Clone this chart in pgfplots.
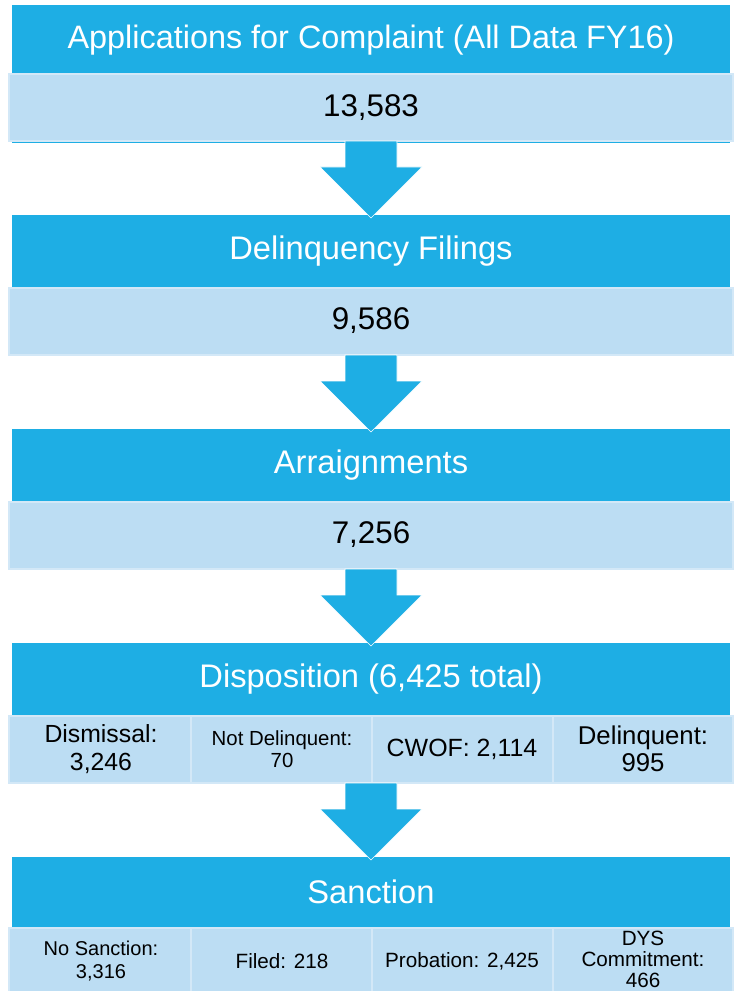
\documentclass[border=0pt]{standalone}
\usepackage{pgfplots}
\pgfplotsset{compat=1.18}
\usepackage{fontspec}
\setmainfont{Liberation Sans}

\definecolor{hdr}{HTML}{1EAEE4}
\definecolor{cell}{HTML}{BCDDF3}
\definecolor{celledge}{HTML}{D3E8F7}

% rectangle from (x1,y1) to (x2,y2), in pixels of the reference
\newcommand{\hdrbox}[4]{\addplot[fill=hdr, draw=none] coordinates {(#1,#2) (#3,#2) (#3,#4) (#1,#4)} -- cycle;}
\newcommand{\cellbox}[4]{\addplot[fill=cell, draw=celledge, line width=1.1pt] coordinates {(#1,#2) (#3,#2) (#3,#4) (#1,#4)} -- cycle;}
% arrow: shaft top, head start, tip
\newcommand{\arrow}[3]{\addplot[fill=hdr, draw=white, line width=0.5pt] coordinates {(345,#1) (397,#1) (397,#2) (422,#2) (371,#3) (320,#2) (345,#2)} -- cycle;}

\newcommand{\hfont}{\fontsize{24.5}{29}\selectfont}
\newcommand{\vfont}{\fontsize{23.5}{28}\selectfont}

\begin{document}
\begin{tikzpicture}
\begin{axis}[
    scale only axis,
    width=552pt, height=743.25pt,
    xmin=0, xmax=736, ymin=0, ymax=991,
    y dir=reverse,
    hide axis,
]
% stage 1
\hdrbox{12}{5}{730}{143}
\cellbox{9}{74}{733}{141}
% stage 2
\hdrbox{12}{215}{730}{288}
\cellbox{9}{288}{733}{355}
% stage 3
\hdrbox{12}{429}{730}{502}
\cellbox{9}{502}{733}{569}
% stage 4
\hdrbox{12}{643}{730}{716}
\cellbox{9}{716}{191}{783}
\cellbox{191}{716}{372}{783}
\cellbox{372}{716}{553}{783}
\cellbox{553}{716}{733}{783}
% stage 5
\hdrbox{12}{857}{730}{928}
\cellbox{9}{928}{191}{1000}
\cellbox{191}{928}{372}{1000}
\cellbox{372}{928}{553}{1000}
\cellbox{553}{928}{733}{1000}
% arrows
\arrow{141}{167}{218}
\arrow{355}{381}{432}
\arrow{569}{595}{646}
\arrow{783}{809}{860}

% headers
\node[text=white, font=\fontsize{24.3}{29}\selectfont] at (axis cs:371,40) {Applications for Complaint (All Data FY16)};
\node[text=white, font=\hfont] at (axis cs:371,251) {Delinquency Filings};
\node[text=white, font=\hfont] at (axis cs:371,465) {Arraignments};
\node[text=white, font=\hfont] at (axis cs:371,679) {Disposition (6,425 total)};
\node[text=white, font=\hfont] at (axis cs:371,892) {Sanction};
% values
\node[font=\vfont] at (axis cs:371,108) {13,583};
\node[font=\vfont] at (axis cs:371,321) {9,586};
\node[font=\vfont] at (axis cs:371,535) {7,256};
% disposition cells
\node[align=center, font=\fontsize{18.6}{20.5}\selectfont] at (axis cs:101,749) {Dismissal:\\3,246};
\node[align=center, font=\fontsize{15.3}{16.5}\selectfont] at (axis cs:282,749) {Not Delinquent:\\70};
\node[align=center, font=\fontsize{18.7}{21}\selectfont] at (axis cs:462,749) {CWOF: 2,114};
\node[align=center, font=\fontsize{19.3}{20.5}\selectfont] at (axis cs:643,749) {Delinquent:\\995};
% sanction cells
\node[align=center, font=\fontsize{15}{17}\selectfont] at (axis cs:101,961) {No Sanction:\\3,316};
\node[align=center, font=\fontsize{15.5}{18}\selectfont] at (axis cs:282,961) {Filed: 218};
\node[align=center, font=\fontsize{15.5}{18}\selectfont] at (axis cs:462,961) {Probation: 2,425};
\node[align=center, font=\fontsize{15.5}{15.8}\selectfont] at (axis cs:643,959) {DYS\\Commitment:\\466};
\end{axis}
\pgfresetboundingbox
\path (current axis.south west) rectangle (current axis.north east);
\end{tikzpicture}
\end{document}
